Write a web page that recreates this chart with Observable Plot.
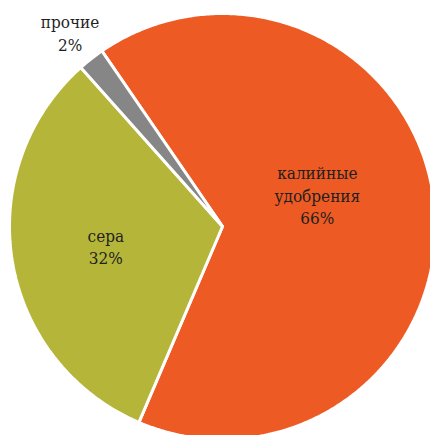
<!DOCTYPE html>
<html>
<head>
<meta charset="utf-8">
<script src="https://cdn.jsdelivr.net/npm/d3@7"></script>
<script src="https://cdn.jsdelivr.net/npm/@observablehq/plot@0.6"></script>
<style>
  html, body { margin: 0; padding: 0; background: #fff; }
  #chart svg { display: block; }
</style>
</head>
<body>
<div id="chart"></div>
<script>
// Data
const categories = ["калийные\nудобрения", "сера", "прочие"];
const shares = [66, 32, 2];
const colors = ["#EE5A24", "#B5B639", "#868686"];

const W = 430, H = 435;
const cx = 222, cy = 226, R = 213;
const startDeg = -34.5;

const data = categories.map((c, i) => ({name: c, value: shares[i], color: colors[i]}));
const arcs = d3.pie().sort(null).value(d => d.value)
  .startAngle(startDeg * Math.PI / 180)
  .endAngle(startDeg * Math.PI / 180 + 2 * Math.PI)(data);

const pts = [];
arcs.forEach(a => {
  const n = Math.max(4, Math.ceil((a.endAngle - a.startAngle) / 0.01));
  pts.push({k: a.data.name, color: a.data.color, x: 0, y: 0});
  for (let j = 0; j <= n; j++) {
    const t = a.startAngle + (a.endAngle - a.startAngle) * j / n;
    pts.push({k: a.data.name, color: a.data.color, x: Math.sin(t), y: Math.cos(t)});
  }
});

const labelRadius = [0.47, 0.555, 1.16];
const labelAngleShift = [-13, 0, 0];
const labels = arcs.map((a, i) => {
  const m = (a.startAngle + a.endAngle) / 2 + labelAngleShift[i] * Math.PI / 180;
  return {
    text: a.data.name + "\n" + a.data.value + "%",
    x: labelRadius[i] * Math.sin(m),
    y: labelRadius[i] * Math.cos(m)
  };
});

const plot = Plot.plot({
  width: W, height: H,
  margin: 0,
  x: {domain: [-1, 1], range: [cx - R, cx + R], axis: null},
  y: {domain: [-1, 1], range: [cy + R, cy - R], axis: null},
  style: {background: "#fff"},
  marks: [
    Plot.line(pts, {x: "x", y: "y", z: "k", fill: d => d.color, stroke: "#fff", strokeWidth: 3, strokeLinejoin: "miter", curve: "linear-closed"}),
    Plot.text(labels, {x: "x", y: "y", text: "text", fontSize: 17, lineHeight: 1.33, fill: "#1f1f1f"})
  ]
});
plot.querySelectorAll("text").forEach(t => {
  t.style.fontFamily = "'DejaVu Serif Condensed', 'DejaVu Serif', serif";
  t.style.fontStretch = "condensed";
});
document.getElementById("chart").appendChild(plot);
</script>
</body>
</html>
